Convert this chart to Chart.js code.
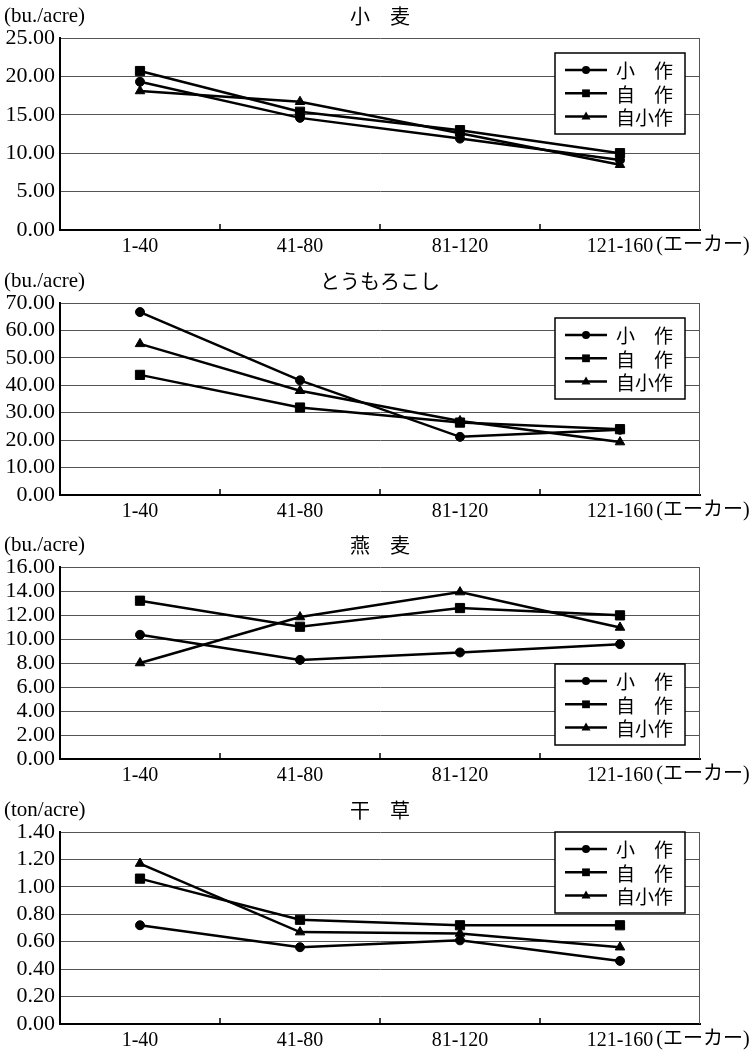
<!DOCTYPE html>
<html><head><meta charset="utf-8">
<script src="https://cdn.jsdelivr.net/npm/chart.js@4.4.1/dist/chart.umd.min.js"></script>
<style>
html,body{margin:0;padding:0;background:#fff;}
#wrap{position:relative;width:755px;height:1051px;background:#fff;}
.box{position:absolute;left:0;width:755px;height:262px;}
</style></head><body>
<div id="wrap">
<div class="box" style="top:0px"><canvas id="c0"></canvas></div>
<div class="box" style="top:265px"><canvas id="c1"></canvas></div>
<div class="box" style="top:529px"><canvas id="c2"></canvas></div>
<div class="box" style="top:794px"><canvas id="c3"></canvas></div>
</div>
<script>
// ---- data ----
const categories = ['1-40','41-80','81-120','121-160'];
const seriesLabels = ['小　作','自　作','自小作'];
const pointStyles = ['circle','rect','triangle'];

const wheatTenant = [19.3, 14.6, 11.9, 9.1];
const wheatOwner  = [20.7, 15.4, 13.0, 10.0];
const wheatPart   = [18.1, 16.7, 12.6, 8.5];

const cornTenant = [66.7, 41.8, 21.2, 23.8];
const cornOwner  = [43.8, 31.9, 26.4, 24.0];
const cornPart   = [55.1, 38.0, 27.0, 19.3];

const oatsTenant = [10.35, 8.26, 8.88, 9.57];
const oatsOwner  = [13.19, 11.02, 12.58, 11.97];
const oatsPart   = [8.0, 11.83, 13.91, 10.96];

const hayTenant = [0.72, 0.56, 0.61, 0.46];
const hayOwner  = [1.06, 0.76, 0.72, 0.72];
const hayPart   = [1.17, 0.67, 0.66, 0.56];

const titles = ['小　麦','とうもろこし','燕　麦','干　草'];
const units  = ['(bu./acre)','(bu./acre)','(bu./acre)','(ton/acre)'];
const yMax   = [25, 70, 16, 1.4];
const yStep  = [5, 10, 2, 0.2];
const xUnit  = '(エーカー)';

const seriesSets = [
  [wheatTenant, wheatOwner, wheatPart],
  [cornTenant, cornOwner, cornPart],
  [oatsTenant, oatsOwner, oatsPart],
  [hayTenant, hayOwner, hayPart]
];

// ---- styling ----
const SERIF = "'Liberation Serif', 'Noto Sans CJK JP', serif";
const CJK = "'Noto Sans CJK JP', sans-serif";
const legendTops = [15, 15, 97, 0];
const pointRadii = [4.5, 6.5, 5.5];

function drawMarker(ctx, style, x, y, r) {
  ctx.beginPath();
  if (style === 'circle') {
    ctx.arc(x, y, r, 0, Math.PI * 2);
  } else if (style === 'rect') {
    const s = r * Math.SQRT1_2;
    ctx.rect(x - s, y - s, 2 * s, 2 * s);
  } else {
    ctx.moveTo(x, y - r);
    ctx.lineTo(x + r * 0.9, y + r * 0.6);
    ctx.lineTo(x - r * 0.9, y + r * 0.6);
    ctx.closePath();
  }
  ctx.fill();
}

const decor = {
  id: 'decor',
  afterDraw(chart, args, opts) {
    const ctx = chart.ctx, a = chart.chartArea, xs = chart.scales.x;
    ctx.save();
    // right border
    ctx.strokeStyle = '#555'; ctx.lineWidth = 1;
    ctx.beginPath(); ctx.moveTo(a.right - 0.5, a.top); ctx.lineTo(a.right - 0.5, a.bottom); ctx.stroke();
    // inward ticks at category boundaries
    ctx.strokeStyle = '#000'; ctx.lineWidth = 1.5;
    for (let i = 0; i < xs.ticks.length - 1; i++) {
      const x = Math.round((xs.getPixelForTick(i) + xs.getPixelForTick(i + 1)) / 2);
      ctx.beginPath(); ctx.moveTo(x, a.bottom); ctx.lineTo(x, a.bottom - 6); ctx.stroke();
    }
    // title and unit
    ctx.fillStyle = '#000';
    ctx.textBaseline = 'middle';
    ctx.font = "20px " + CJK;
    ctx.textAlign = 'center';
    ctx.fillText(opts.title, (a.left + a.right) / 2, a.top - 22);
    ctx.font = "21px " + SERIF;
    ctx.textAlign = 'left';
    ctx.fillText(opts.unit, 4, a.top - 22);
    // x unit after last tick label
    ctx.font = "20px " + SERIF;
    const lastX = xs.getPixelForTick(xs.ticks.length - 1);
    const lastW = ctx.measureText(categories[categories.length - 1]).width;
    ctx.font = "20px " + SERIF;
    ctx.fillText(xUnit, lastX + lastW / 2 + 3, a.bottom + 16);
    // legend
    const bw = 130, bh = 81;
    const bx = a.right - 15 - bw, by = a.top + opts.legendTop;
    ctx.fillStyle = '#fff';
    ctx.fillRect(bx, by, bw, bh);
    ctx.strokeStyle = '#000'; ctx.lineWidth = 1.5;
    ctx.strokeRect(bx, by, bw, bh);
    chart.data.datasets.forEach((ds, i) => {
      const y = by + 17 + i * 23.3;
      ctx.strokeStyle = '#000'; ctx.lineWidth = 2.5;
      ctx.beginPath(); ctx.moveTo(bx + 10, y); ctx.lineTo(bx + 52, y); ctx.stroke();
      ctx.fillStyle = '#000';
      drawMarker(ctx, ds.pointStyle, bx + 31, y, ds.pointStyle === 'rect' ? 5.5 : (ds.pointStyle === 'triangle' ? 5 : 4));
      ctx.font = "19px " + CJK;
      ctx.textAlign = 'left';
      ctx.textBaseline = 'middle';
      ctx.fillText(ds.label, bx + 61, y + 1);
    });
    ctx.restore();
  }
};

seriesSets.forEach((sets, k) => {
  new Chart(document.getElementById('c' + k), {
    type: 'line',
    data: {
      labels: categories,
      datasets: sets.map((vals, i) => ({
        label: seriesLabels[i],
        data: vals,
        borderColor: '#000',
        borderWidth: 2.5,
        backgroundColor: '#000',
        pointStyle: pointStyles[i],
        pointRadius: pointRadii[i],
        pointBackgroundColor: '#000',
        pointBorderColor: '#000',
        pointBorderWidth: 1,
        tension: 0,
        fill: false
      }))
    },
    options: {
      responsive: true,
      maintainAspectRatio: false,
      animation: false,
      devicePixelRatio: 1,
      events: [],
      layout: { padding: { top: 38, right: 55, left: 0, bottom: 0 } },
      plugins: {
        legend: { display: false },
        tooltip: { enabled: false },
        title: { display: false },
        decor: { title: titles[k], unit: units[k], legendTop: legendTops[k] }
      },
      scales: {
        x: {
          type: 'category',
          offset: true,
          grid: { display: false, drawTicks: false },
          border: { display: true, color: '#000', width: 2 },
          ticks: { color: '#000', font: { family: SERIF, size: 20 }, padding: 5, maxRotation: 0, autoSkip: false },
          afterFit(s) { s.height = 32; }
        },
        y: {
          min: 0,
          max: yMax[k],
          grid: { color: '#555', lineWidth: 1, drawTicks: false },
          border: { display: true, color: '#000', width: 2 },
          ticks: {
            stepSize: yStep[k],
            autoSkip: false,
            color: '#000',
            font: { family: SERIF, size: 22 },
            padding: 5,
            callback: v => Number(v).toFixed(2)
          },
          afterFit(s) { s.width = 60; }
        }
      }
    },
    plugins: [decor]
  });
});
</script>
</body></html>
